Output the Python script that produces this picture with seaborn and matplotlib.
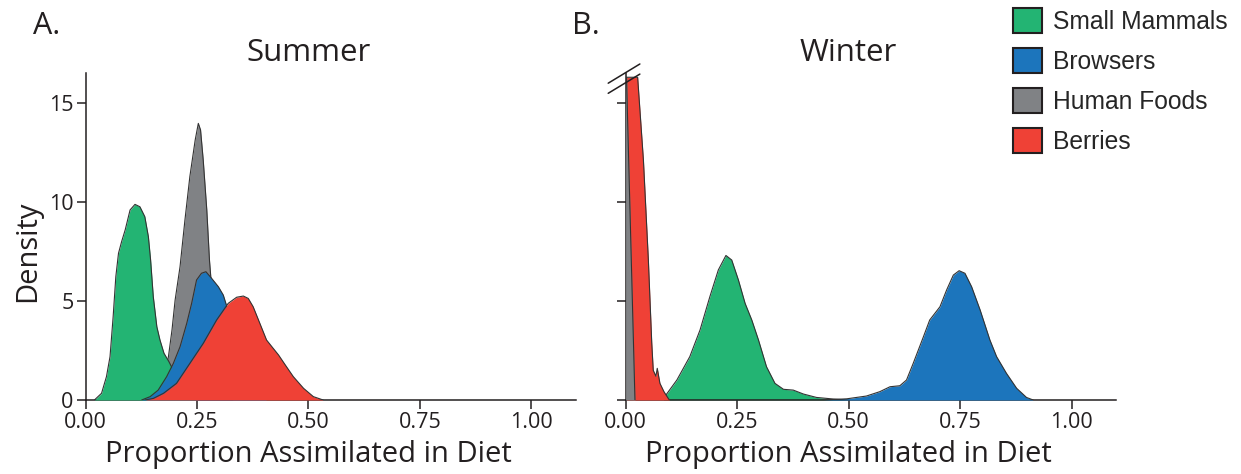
import matplotlib
matplotlib.use("Agg")
import matplotlib.pyplot as plt
from matplotlib.patches import Patch
import seaborn as sns

# density curves (x = proportion, y = density)
groups = ["Small Mammals", "Browsers", "Human Foods", "Berries"]
group_colors = ["#23B473", "#1C75BC", "#808285", "#EF4136"]

# Summer
mammals_summer_x = [0.02, 0.036, 0.047, 0.055, 0.062, 0.068, 0.074, 0.081, 0.089, 0.1,
                    0.111, 0.122, 0.133, 0.141, 0.146, 0.152, 0.16, 0.167, 0.176, 0.187,
                    0.204, 0.219, 0.234, 0.249]
mammals_summer_y = [0, 0.34, 1.18, 2.19, 4.21, 6.23, 7.41, 8.0, 8.59, 9.6,
                    9.88, 9.76, 9.26, 8.25, 7.07, 5.22, 3.7, 3.03, 2.36, 1.94,
                    1.18, 0.42, 0.08, 0]
browsers_summer_x = [0.126, 0.145, 0.163, 0.182, 0.197, 0.212, 0.227, 0.238, 0.249, 0.26,
                     0.27, 0.283, 0.298, 0.309, 0.331, 0.346, 0.369, 0.391, 0.406]
browsers_summer_y = [0, 0.17, 0.5, 1.18, 1.85, 2.69, 3.87, 4.88, 6.06, 6.4,
                     6.48, 6.14, 5.72, 5.3, 3.7, 2.36, 1.0, 0.17, 0]
human_summer_x = [0.163, 0.171, 0.178, 0.186, 0.194, 0.201, 0.212, 0.223, 0.234, 0.246,
                  0.253, 0.258, 0.264, 0.272, 0.278, 0.288, 0.298, 0.309, 0.324, 0.331]
human_summer_y = [0, 0.34, 1.18, 2.19, 3.54, 5.05, 6.73, 9.09, 11.28, 13.13,
                  13.97, 13.64, 12.12, 9.6, 7.07, 4.21, 2.19, 0.84, 0.08, 0]
berries_summer_x = [0.133, 0.152, 0.175, 0.204, 0.234, 0.264, 0.294, 0.32, 0.339, 0.354,
                    0.365, 0.376, 0.391, 0.406, 0.418, 0.433, 0.448, 0.466, 0.489, 0.511,
                    0.533]
berries_summer_y = [0, 0.08, 0.34, 0.84, 1.85, 2.86, 4.04, 4.88, 5.19, 5.25,
                    5.13, 4.71, 3.87, 3.03, 2.69, 2.27, 1.77, 1.18, 0.59, 0.17,
                    0]

# Winter
mammals_winter_x = [0.085, 0.092, 0.115, 0.144, 0.167, 0.189, 0.208, 0.225, 0.238, 0.253,
                    0.268, 0.283, 0.298, 0.316, 0.335, 0.354, 0.376, 0.399, 0.428, 0.466,
                    0.5]
mammals_winter_y = [0, 0.3, 1.01, 2.19, 3.54, 5.22, 6.57, 7.3, 7.07, 6.06,
                    4.88, 4.04, 3.03, 1.68, 0.84, 0.54, 0.5, 0.3, 0.13, 0.05,
                    0]
browsers_winter_x = [0.443, 0.496, 0.54, 0.57, 0.593, 0.615, 0.63, 0.645, 0.668, 0.682,
                     0.705, 0.72, 0.735, 0.748, 0.761, 0.776, 0.795, 0.817, 0.832, 0.854,
                     0.877, 0.899, 0.914]
browsers_winter_y = [0, 0.06, 0.2, 0.42, 0.67, 0.72, 1.01, 1.85, 3.2, 4.04,
                     4.71, 5.56, 6.31, 6.53, 6.4, 5.72, 4.55, 3.03, 2.19, 1.35,
                     0.59, 0.13, 0]
human_winter_x = [0.0, 0.002, 0.021]
human_winter_y = [16.3, 16.3, 0]
berries_winter_x = [0.002, 0.0025, 0.027, 0.04, 0.051, 0.0586, 0.062, 0.068, 0.071, 0.077,
                    0.086, 0.098]
berries_winter_y = [0, 16.3, 16.3, 12.1, 7.1, 2.9, 1.5, 1.2, 1.6, 0.84,
                    0.42, 0]

x_ticks = [0, 0.25, 0.5, 0.75, 1.0]
y_ticks = [0, 5, 10, 15]

summer = {
    "Small Mammals": (mammals_summer_x, mammals_summer_y),
    "Browsers": (browsers_summer_x, browsers_summer_y),
    "Human Foods": (human_summer_x, human_summer_y),
    "Berries": (berries_summer_x, berries_summer_y),
}
winter = {
    "Small Mammals": (mammals_winter_x, mammals_winter_y),
    "Browsers": (browsers_winter_x, browsers_winter_y),
    "Human Foods": (human_winter_x, human_winter_y),
    "Berries": (berries_winter_x, berries_winter_y),
}
# stacking order (first = bottom)
summer_order = ["Human Foods", "Small Mammals", "Browsers", "Berries"]
winter_order = ["Small Mammals", "Browsers", "Berries", "Human Foods"]

sns.set_style("ticks")
plt.rcParams["font.family"] = ["Open Sans", "DejaVu Sans"]
ink = "#231F20"
color_of = dict(zip(groups, group_colors))

W, H = 1241, 474
fig = plt.figure(figsize=(W / 100, H / 100), dpi=100)
ax1 = fig.add_axes([85.5 / W, 74 / H, 490.5 / W, 326.7 / H])
ax2 = fig.add_axes([625.6 / W, 74 / H, 490.5 / W, 326.7 / H])


def draw_panel(ax, data, order, title, show_ylabels):
    for i, name in enumerate(order):
        xs, ys = data[name]
        ax.fill_between(xs, ys, 0, color=color_of[name], linewidth=0, zorder=2 + i)
        sns.lineplot(x=xs, y=ys, ax=ax, color="#333333", linewidth=0.8,
                     estimator=None, sort=False, zorder=2.5 + i)
    ax.set_xlim(0, 1.1)
    ax.set_ylim(0, 16.5)
    ax.set_xticks(x_ticks)
    ax.set_xticklabels(["0.00", "0.25", "0.50", "0.75", "1.00"])
    ax.set_yticks(y_ticks)
    if not show_ylabels:
        ax.set_yticklabels([])
    ax.tick_params(direction="out", length=6.5, width=1.1, colors=ink,
                   labelsize=15.5, pad=2)
    for side in ["top", "right"]:
        ax.spines[side].set_visible(False)
    for side in ["left", "bottom"]:
        ax.spines[side].set_linewidth(1.1)
        ax.spines[side].set_color(ink)
    ax.set_xlabel("Proportion Assimilated in Diet", fontsize=21, color=ink, va="center")
    ax.xaxis.set_label_coords(0.5 / 1.1, -0.168)
    ax.set_title(title, x=0.5 / 1.1, y=(400 - 53) / 326.7, va="center", pad=0,
                 fontsize=22.5, color=ink)


draw_panel(ax1, summer, summer_order, "Summer", True)
draw_panel(ax2, winter, winter_order, "Winter", False)

ax1.set_ylabel("Density", fontsize=21, color=ink, va="center")
ax1.yaxis.set_label_coords(-0.117, 0.456)

# axis break marks on the winter panel
for y0 in [16.0, 15.49]:
    ax2.plot([-0.039, 0.032], [y0, y0 + 0.97], color=ink, lw=1.1, clip_on=False, zorder=20)

fig.text(46.7 / W, 1 - 26 / H, "A.", fontsize=22, color=ink, ha="center", va="center")
fig.text(586 / W, 1 - 26 / H, "B.", fontsize=22, color=ink, ha="center", va="center")

handles = [Patch(facecolor=c, edgecolor=ink, linewidth=1.5) for c in group_colors]
fig.legend(handles, groups, loc="upper left", bbox_to_anchor=(1013 / W, 1 - 8 / H),
           frameon=False, borderpad=0, borderaxespad=0, handlelength=1.18,
           handleheight=1.18, handletextpad=0.45, labelspacing=0.58,
           prop={"family": "Liberation Sans", "size": 17.7})

fig.savefig("out.png", dpi=100)
